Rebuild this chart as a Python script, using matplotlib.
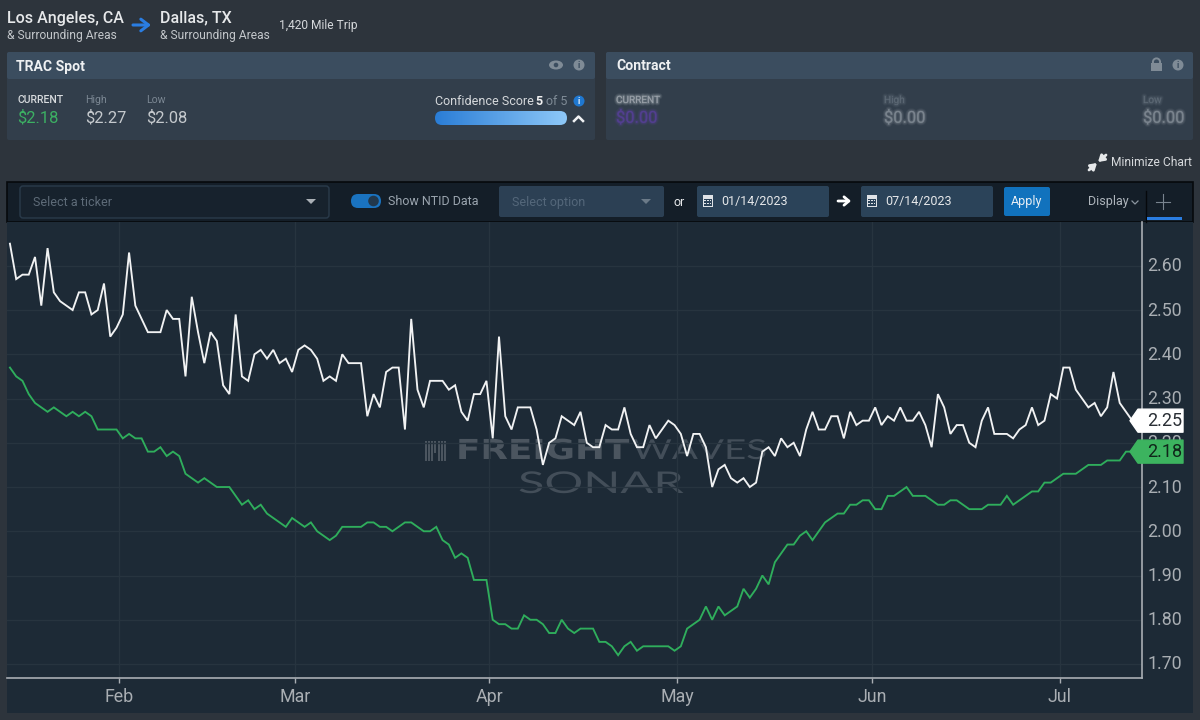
import numpy as np
import pandas as pd
import matplotlib
matplotlib.use("Agg")
import matplotlib.pyplot as plt
import matplotlib.dates as mdates
from matplotlib.patches import FancyBboxPatch, Rectangle, Circle, Ellipse, Polygon
from matplotlib.patheffects import AbstractPathEffect, withStroke
from matplotlib.transforms import Affine2D, ScaledTranslation
from matplotlib.colors import LinearSegmentedColormap

plt.rcParams['font.family'] = ['Roboto', 'DejaVu Sans']

# ---------- data ----------
ntid_rates = [
    2.65,2.57,2.58,2.58,2.62,2.51,2.64,2.54,2.52,2.51,2.50,2.54,2.54,2.49,2.50,2.56,2.44,2.46,2.49,2.63,
    2.51,2.48,2.45,2.45,2.45,2.50,2.48,2.48,2.35,2.53,2.45,2.38,2.45,2.43,2.33,2.31,2.49,2.35,2.34,2.40,
    2.41,2.39,2.41,2.38,2.39,2.36,2.41,2.42,2.41,2.39,2.34,2.35,2.34,2.40,2.38,2.38,2.38,2.26,2.31,2.28,
    2.36,2.37,2.37,2.23,2.48,2.32,2.28,2.34,2.34,2.34,2.32,2.33,2.27,2.25,2.31,2.31,2.34,2.21,2.44,2.26,
    2.23,2.28,2.28,2.28,2.23,2.15,2.20,2.21,2.26,2.25,2.24,2.27,2.20,2.19,2.19,2.24,2.23,2.23,2.28,2.22,
    2.19,2.19,2.24,2.21,2.23,2.25,2.24,2.22,2.17,2.22,2.22,2.19,2.10,2.14,2.15,2.12,2.11,2.12,2.10,2.11,
    2.18,2.19,2.17,2.21,2.19,2.20,2.17,2.23,2.27,2.23,2.23,2.26,2.26,2.21,2.27,2.24,2.25,2.25,2.28,2.24,
    2.26,2.25,2.28,2.25,2.25,2.27,2.24,2.19,2.31,2.28,2.22,2.24,2.24,2.20,2.19,2.25,2.28,2.22,2.22,2.22,
    2.21,2.23,2.24,2.28,2.24,2.25,2.31,2.30,2.37,2.37,2.32,2.30,2.28,2.29,2.26,2.28,2.36,2.29,2.27,2.25,
]
trac_rates = [
    2.37,2.35,2.34,2.31,2.29,2.28,2.27,2.28,2.27,2.26,2.27,2.26,2.27,2.26,2.23,2.23,2.23,2.23,2.21,2.22,
    2.21,2.21,2.18,2.18,2.19,2.17,2.18,2.17,2.13,2.12,2.11,2.12,2.11,2.10,2.10,2.10,2.08,2.06,2.07,2.05,
    2.06,2.04,2.03,2.02,2.01,2.03,2.02,2.01,2.02,2.00,1.99,1.98,1.99,2.01,2.01,2.01,2.01,2.02,2.02,2.01,
    2.01,2.00,2.01,2.02,2.02,2.01,2.00,2.00,2.01,1.98,1.97,1.94,1.95,1.94,1.89,1.89,1.89,1.80,1.79,1.79,
    1.78,1.78,1.81,1.80,1.80,1.79,1.77,1.77,1.80,1.78,1.77,1.78,1.78,1.78,1.75,1.75,1.74,1.72,1.74,1.75,
    1.73,1.74,1.74,1.74,1.74,1.74,1.73,1.74,1.78,1.79,1.80,1.83,1.80,1.83,1.81,1.82,1.83,1.87,1.85,1.87,
    1.90,1.88,1.93,1.95,1.97,1.97,1.99,2.00,1.98,2.00,2.02,2.03,2.04,2.04,2.06,2.06,2.07,2.07,2.05,2.05,
    2.08,2.08,2.09,2.10,2.08,2.08,2.08,2.07,2.06,2.06,2.07,2.07,2.06,2.05,2.05,2.05,2.06,2.06,2.06,2.08,
    2.06,2.07,2.08,2.09,2.09,2.11,2.11,2.12,2.13,2.13,2.13,2.14,2.15,2.15,2.15,2.16,2.16,2.16,2.18,2.18,
]
first_day = "2023-01-14 13:00"
month_ticks = ["2023-02-01", "2023-03-01", "2023-04-01", "2023-05-01", "2023-06-01", "2023-07-01"]
month_labels = ["Feb", "Mar", "Apr", "May", "Jun", "Jul"]
price_ticks = [1.70, 1.80, 1.90, 2.00, 2.10, 2.20, 2.30, 2.40, 2.50, 2.60]
stat_labels = ["CURRENT", "High", "Low"]
stat_values = ["$2.18", "$2.27", "$2.08"]

# ---------- colours ----------
PAGE = "#2d343c"; CHART = "#1d2a36"; GRID = "#27343f"
HEAD = "#3b4d5f"; BODY = "#323e4b"; BAR = "#141e28"
FIELD = "#2b4359"; BLUE = "#1172bd"; GREEN = "#2fae5c"; AXISC = "#a9aeb3"

W, H = 1200, 720
fig = plt.figure(figsize=(12, 7.2), dpi=100, facecolor=PAGE)

def px_axes(z):
    a = fig.add_axes([0, 0, 1, 1], zorder=z, facecolor="none")
    a.set_xlim(0, W); a.set_ylim(H, 0); a.axis("off")
    return a

bg = px_axes(0)
top = px_axes(3)

def T(x, y, s, px, color="#e6e8ea", weight="normal", ha="left", ax=bg, **kw):
    return ax.text(x, y, s, fontsize=px * 0.72, color=color, fontweight=weight,
                   ha=ha, va="center", **kw)

def R(x0, y0, x1, y1, fc, ec="none", lw=0, r=0, ax=bg, z=1):
    if r:
        p = FancyBboxPatch((x0 + r, y0 + r), x1 - x0 - 2 * r, y1 - y0 - 2 * r,
                           boxstyle=f"round,pad={r},rounding_size={r}", fc=fc, ec=ec, lw=lw, zorder=z)
    else:
        p = Rectangle((x0, y0), x1 - x0, y1 - y0, fc=fc, ec=ec, lw=lw, zorder=z)
    ax.add_patch(p)
    return p

class Stretch(AbstractPathEffect):
    """Widen glyphs horizontally around the text origin."""
    def __init__(self, sx):
        super().__init__()
        self.sx = sx
    def draw_path(self, renderer, gc, tpath, affine, rgbFace=None):
        renderer.draw_path(gc, tpath, Affine2D().scale(self.sx, 1) + affine, rgbFace)

def info(x, y, c="#7f8b96", ax=bg, fc="#323e4b"):
    ax.add_patch(Circle((x, y), 5.5, fc=c, ec="none", zorder=3))
    ax.text(x, y + 0.3, "i", fontsize=6.5, color=fc, ha="center", va="center", fontweight="bold", zorder=4)

# ---------- page header ----------
T(7, 18, "Los Angeles, CA", 16, weight="medium")
T(7, 36, "& Surrounding Areas", 12, color="#c3c7cb")
T(160, 18, "Dallas, TX", 16, weight="medium")
T(160, 36, "& Surrounding Areas", 12, color="#c3c7cb")
T(279, 25, "1,420 Mile Trip", 12, color="#d5d8db")
bg.annotate("", xy=(151, 25), xytext=(133, 25),
            arrowprops=dict(arrowstyle="->,head_width=0.42,head_length=0.55", color="#2a7de1", lw=2.2,
                            shrinkA=0, shrinkB=0))

# ---------- panels ----------
for x0, x1 in [(7, 595), (606, 1193)]:
    R(x0, 52, x1, 140, BODY, r=2)
    R(x0, 52, x1, 79, HEAD, r=2)
T(16, 66.5, "TRAC Spot", 14, weight="bold", color="#eef0f2")
T(616, 66.5, "Contract", 14, weight="bold", color="#eef0f2")
bg.add_patch(Ellipse((556, 65), 14, 9, fc="#7f8b96", ec="none", zorder=3))
bg.add_patch(Circle((556, 65), 2.3, fc=HEAD, ec="none", zorder=4))
info(579, 65, fc=HEAD)
R(1151, 63, 1162, 71, "#7f8b96", z=3)
bg.add_patch(Circle((1156.5, 62), 3.6, fc="none", ec="#7f8b96", lw=1.4, zorder=3))
info(1178, 65, fc=HEAD)

T(17.5, 100, stat_labels[0], 10.5, weight="medium", color="#d8dbde")
T(17.5, 118, stat_values[0], 16.5, color="#3cb063")
T(85.5, 100, stat_labels[1], 10.5, color="#7b8793")
T(85.5, 118, stat_values[1], 16.5, color="#c5c9cd")
T(146.5, 100, stat_labels[2], 10.5, color="#7b8793")
T(146.5, 118, stat_values[2], 16.5, color="#c5c9cd")

T(435, 101.5, "Confidence Score", 12.5, color="#d5d8db")
T(535, 101.5, "5", 12.5, color="#f0f0f0", weight="bold")
T(546, 101.5, "of 5", 12.5, color="#7f8b96")
info(579, 101, c="#1f78d1", fc="#dfeaf5")
cm = LinearSegmentedColormap.from_list("conf", ["#2a7dd6", "#8ec8f8"])
im = bg.imshow(np.linspace(0, 1, 256).reshape(1, -1), cmap=cm, extent=(435, 567, 125, 111),
               aspect="auto", zorder=3)
clip = R(435, 111, 567, 125, "none", r=7, z=2)
im.set_clip_path(clip)
bg.set_xlim(0, W); bg.set_ylim(H, 0)
bg.plot([574, 578.5, 583], [121, 116.5, 121], color="#f0f2f4", lw=1.8, zorder=3)

# blurred contract figures
def blurred(x, y, s, px, c):
    t = T(x, y, s, px, color=c, alpha=0.22)
    t.set_path_effects([withStroke(linewidth=3.6, foreground=c, alpha=0.10),
                        withStroke(linewidth=2.2, foreground=c, alpha=0.16),
                        withStroke(linewidth=1.0, foreground=c, alpha=0.22)])
blurred(616, 100, "CURRENT", 10, "#aeb5bc")
blurred(616, 118, "$0.00", 16.5, "#5b3fa0")
blurred(884, 100, "High", 10, "#66727e")
blurred(884, 118, "$0.00", 16.5, "#8b949d")
blurred(1143, 100, "Low", 10, "#66727e")
blurred(1143, 118, "$0.00", 16.5, "#8b949d")

# minimize
for (a, b) in [((1089, 170), (1097, 163)), ((1106, 155), (1098, 162))]:
    bg.annotate("", xy=b, xytext=a, arrowprops=dict(arrowstyle="-|>,head_width=0.22,head_length=0.35",
                                                   color="#e6e8ea", lw=2, shrinkA=0, shrinkB=0))
T(1111, 162, "Minimize Chart", 12, color="#d8dbde")

# ---------- toolbar ----------
R(7, 182, 1193, 222, BAR, ec="#06090c", lw=1.2)
R(20, 186, 329, 218, "#17222d", ec="#2a3b4b", lw=1, r=3, z=2)
T(33, 202.5, "Select a ticker", 12.5, color="#5e6b78", zorder=3)
bg.add_patch(Polygon([[306, 199], [316, 199], [311, 204]], fc="#aab0b6", zorder=3))
R(351, 194, 381, 208, "#1a73c0", r=7, z=3)
bg.add_patch(Circle((373.5, 201), 5.3, fc="#22384c", ec="none", zorder=4))
T(388, 201.5, "Show NTID Data", 12.5, color="#9aa4ae", zorder=3)
R(499, 186, 664, 217, "#2c4054", r=2, z=2)
T(512, 202.5, "Select option", 12.5, color="#54677a", zorder=3)
bg.add_patch(Polygon([[641, 199], [651, 199], [646, 204]], fc="#6b7a88", zorder=3))
T(674, 202, "or", 12.5, color="#e6e8ea", zorder=3)
for x0, x1, s in [(697, 829, "01/14/2023"), (861, 993, "07/14/2023")]:
    R(x0, 186, x1, 217, FIELD, r=2, z=2)
    R(x0 + 6, 195, x0 + 16, 207, "#dfe3e7", z=3)
    R(x0 + 7, 199, x0 + 15, 206, FIELD, z=4)
    for dx in (8, 11, 13.5):
        for dy in (200.5, 203.5):
            R(x0 + dx - 0.8, dy - 0.8, x0 + dx + 0.8, dy + 0.8, "#dfe3e7", z=5)
    T(x0 + 24, 201.5, s, 12.5, color="#e6e8ea", zorder=3)
bg.annotate("", xy=(851, 201), xytext=(838, 201),
            arrowprops=dict(arrowstyle="->,head_width=0.3,head_length=0.35", color="#ffffff", lw=2,
                            shrinkA=0, shrinkB=0), zorder=3)
R(1004, 187, 1050, 216, BLUE, r=2, z=2)
T(1027, 202, "Apply", 12.5, color="#e8eef4", ha="center", zorder=3)
T(1088, 201, "Display", 12.5, color="#aeb5bc", zorder=3)
bg.plot([1132, 1135, 1138], [201, 204, 201], color="#8c96a0", lw=0.9, zorder=3)
bg.plot([1146, 1146], [191, 222], color="#05080b", lw=1, zorder=3)
bg.plot([1156, 1170], [201.5, 201.5], color="#78838e", lw=0.8, zorder=3)
bg.plot([1163, 1163], [194, 209], color="#78838e", lw=0.8, zorder=3)
R(1147, 217, 1182, 219.5, "#2a7de1", z=3)

# ---------- chart background & watermark ----------
R(7, 222, 1193, 713, CHART, z=1)
wm = "#4b555f"
for i in range(7):
    h = [20, 20, 20, 12, 20, 20, 20][i]
    R(424.5 + i * 3.3, 441, 426.5 + i * 3.3, 441 + h, wm, z=2)
t = T(456, 451, "FREIGHT", 27.5, color=wm, weight="bold", family="DejaVu Sans", zorder=2)
t.set_path_effects([Stretch(1.30)])
t = T(632, 451, "WAVES", 27.5, color="#434e59", family="Lato", zorder=2)
t.set_path_effects([Stretch(1.40)])
t = T(518, 484, "SONAR", 30, color="#434e59", family="Lato", zorder=2)
t.set_path_effects([Stretch(1.62)])

# ---------- chart ----------
ax = fig.add_axes([7 / W, 1 - 678 / H, (1142 - 7) / W, (678 - 222) / H], zorder=1, facecolor="none")
dates = pd.date_range(first_day, periods=len(ntid_rates), freq="D")
ax.plot(dates, ntid_rates, color="#f1f2f3", lw=1.35, zorder=3, solid_joinstyle="miter")
ax.plot(dates, trac_rates, color=GREEN, lw=1.35, zorder=3, solid_joinstyle="miter")

px_per_day = 6.27
feb = mdates.date2num(pd.Timestamp(month_ticks[0]))
ax.set_xlim(feb + (7 - 119.4) / px_per_day, feb + (1142 - 119.4) / px_per_day)
ax.set_ylim(1.70 - (678 - 664) / 442.4, 2.60 + (265.8 - 222) / 442.4)
ax.set_xticks(mdates.date2num(pd.to_datetime(month_ticks)))
ax.set_xticklabels(month_labels)
ax.set_yticks(price_ticks)
ax.set_yticklabels([f"{v:.2f}" for v in price_ticks])
ax.yaxis.tick_right()
ax.grid(True, color=GRID, lw=1, zorder=0)
for s in ("left", "top"):
    ax.spines[s].set_visible(False)
for s in ("right", "bottom"):
    ax.spines[s].set_color(AXISC); ax.spines[s].set_linewidth(1.2)
ax.tick_params(axis="x", colors=AXISC, labelsize=12.8, length=3.5, width=1, pad=3.5)
ax.tick_params(axis="y", colors=AXISC, labelsize=12.8, length=0, pad=4)
# value labels sit slightly above their gridlines
nudge = ScaledTranslation(0, 1.5 / 100, fig.dpi_scale_trans)
for lab in ax.get_yticklabels():
    lab.set_transform(lab.get_transform() + nudge)

# last-value tags, positioned through the chart's own scale
def tag(value, fc, tc):
    y = H - ax.transData.transform((0, value))[1]
    pts = [[1130, y], [1138, y - 11.5], [1183, y - 11.5], [1183, y + 11.5], [1138, y + 11.5]]
    top.add_patch(Polygon(pts, closed=True, fc=fc, ec=fc, lw=1, joinstyle="round", zorder=5))
    T(1147, y, f"{value:.2f}", 18, color=tc, ax=top, zorder=6)

tag(ntid_rates[-1], "#ffffff", "#2a2f35")
tag(trac_rates[-1], "#3cb35f", "#10261a")

fig.savefig("out.png", dpi=100, facecolor=PAGE)
